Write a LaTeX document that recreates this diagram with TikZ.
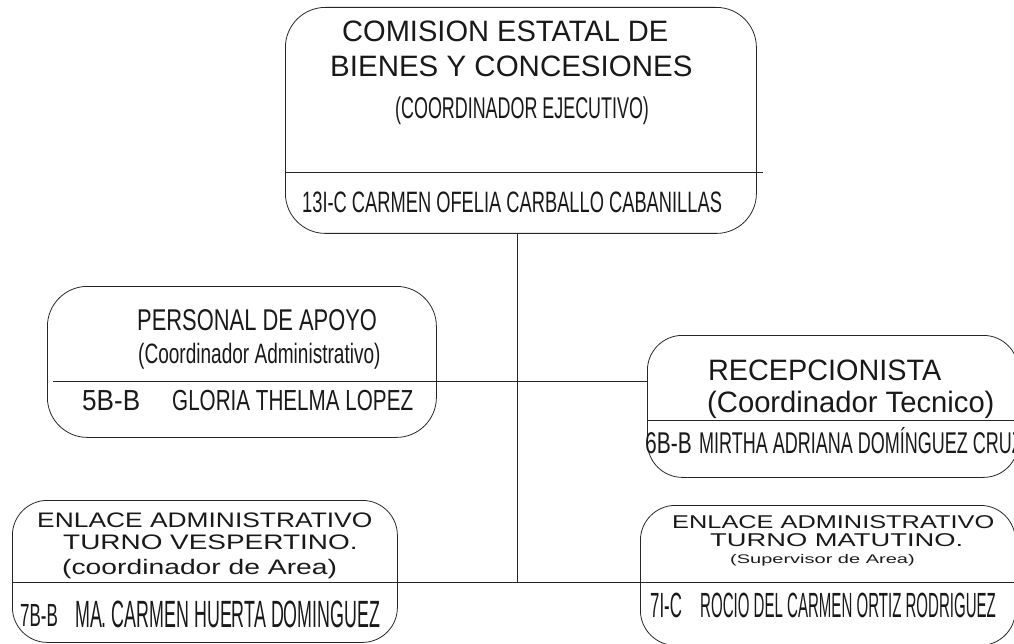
\documentclass[tikz,border=0pt]{standalone}
\usepackage{fontspec}
\setmainfont{Liberation Sans}
\usepackage{graphicx}
\newcommand{\tx}[3]{\fontsize{#1}{#1}\selectfont\scalebox{#2}[1]{#3}}
\begin{document}
\begin{tikzpicture}[x=1pt,y=-1pt,
  box/.style={draw=black!85, line width=0.8pt, anchor=north west, inner sep=0pt},
  lbl/.style={anchor=base west, inner sep=0pt, text=black!90},
  conn/.style={draw=black!85, line width=0.8pt}]
\useasboundingbox (0,0) rectangle (1014,644);
\clip (0,0) rectangle (1014,644);
% boxes
\node[box, rounded corners=40pt, minimum width=471pt, minimum height=226pt] (top) at (285,7) {};
\node[box, rounded corners=40pt, minimum width=389pt, minimum height=151pt] (pa) at (47,286) {};
\node[box, rounded corners=35pt, minimum width=371pt, minimum height=142pt] (rec) at (647,335) {};
\node[box, rounded corners=35pt, minimum width=385pt, minimum height=142pt] (bl) at (12,500) {};
\node[box, rounded corners=35pt, minimum width=375pt, minimum height=140pt] (br) at (640,505) {};
% junction coordinates
\coordinate (jt) at (517,233);
\coordinate (jm) at (517,381);
\coordinate (jb) at (517,582);
% dividers
\draw[conn] (top.west |- 0,172) -- ([xshift=6pt]top.east |- 0,172);
\draw[conn] (rec.west |- 0,420) -- (rec.east |- 0,420);
\draw[conn] (bl.west |- jb) -- (bl.east |- jb);
\draw[conn] (br.west |- jb) -- (br.east |- jb);
% connectors
\draw[conn] (jt) -- (jb);
\draw[conn] ([xshift=6pt]pa.west |- jm) -- (rec.west |- jm);
\draw[conn] ([xshift=-14pt]bl.east |- jb) -- (br.west |- jb);
% top box text
\node[lbl] (t1) at (342,42) {\tx{29.5}{0.985}{COMISION ESTATAL DE}};
\node[lbl] (t2) at (330,77) {\tx{29.5}{1.0}{BIENES Y CONCESIONES}};
\node[lbl] (t3) at (395,119) {\tx{30}{0.597}{(COORDINADOR EJECUTIVO)}};
\node[lbl] (t4) at (302,213) {\tx{29.5}{0.62}{13I-C CARMEN OFELIA CARBALLO CABANILLAS}};
% personal de apoyo
\node[lbl] (p1) at (137,330) {\tx{30}{0.73}{PERSONAL DE APOYO}};
\node[lbl] (p2) at (138,363) {\tx{28}{0.68}{(Coordinador Administrativo)}};
\node[lbl] (p3) at (82,410) {\tx{29}{0.90}{5B-B}};
\node[lbl] (p4) at (172,410) {\tx{29}{0.712}{GLORIA THELMA LOPEZ}};
% recepcionista
\node[lbl] (r1) at (708,380) {\tx{29.5}{0.976}{RECEPCIONISTA}};
\node[lbl] (r2) at (707,412) {\tx{29.5}{0.99}{(Coordinador Tecnico)}};
\node[lbl] (r3) at (645,453) {\tx{30}{0.70}{6B-B}};
\node[lbl] (r4) at (699,453) {\tx{30}{0.60}{MIRTHA ADRIANA DOMÍNGUEZ CRUZ}};
% bottom left
\node[lbl] (b1) at (37,527) {\tx{21}{1.256}{ENLACE ADMINISTRATIVO}};
\node[lbl] (b2) at (63,549) {\tx{21}{1.33}{TURNO VESPERTINO.}};
\node[lbl] (b3) at (62,574) {\tx{21}{1.346}{(coordinador de Area)}};
\node[lbl] (b4) at (20,626) {\tx{32}{0.53}{7B-B}};
\node[lbl] (b5) at (75,627) {\tx{38}{0.47}{MA. CARMEN HUERTA DOMINGUEZ}};
% bottom right
\node[lbl] (m1) at (672,528) {\tx{18.5}{1.37}{ENLACE ADMINISTRATIVO}};
\node[lbl] (m2) at (710,546) {\tx{18.5}{1.477}{TURNO MATUTINO.}};
\node[lbl] (m3) at (730,563) {\tx{12.5}{1.6}{(Supervisor de Area)}};
\node[lbl] (m4) at (650,617) {\tx{35}{0.48}{7I-C}};
\node[lbl] (m5) at (700,617) {\tx{35}{0.43}{ROCIO DEL CARMEN ORTIZ RODRIGUEZ}};
\end{tikzpicture}
\end{document}
